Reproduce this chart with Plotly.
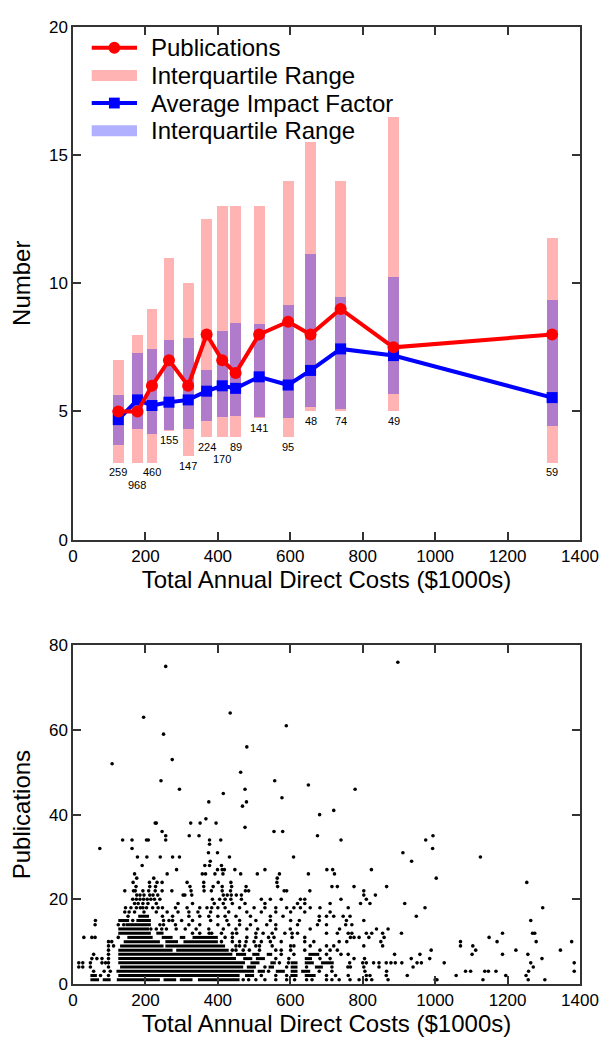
import plotly.graph_objects as go

# ---------------- top panel data ----------------
cost_mid = [125, 178, 218, 265, 318, 369, 412, 449, 514, 594, 656, 739, 885, 1323]
pub_median = [5, 5, 6, 7, 6, 8, 7, 6.5, 8, 8.5, 8, 9, 7.5, 8]
pub_q1 = [3, 3, 3, 4.25, 3.25, 4, 4, 4, 4.75, 4, 5, 5, 5, 3]
pub_q3 = [7, 8, 9, 11, 10, 12.5, 13, 13, 13, 14, 15.5, 14, 16.5, 11.75]
if_mean = [4.68, 5.45, 5.23, 5.36, 5.45, 5.79, 6.0, 5.9, 6.35, 6.03, 6.6, 7.44, 7.18, 5.54]
if_q1 = [3.68, 4.32, 4.13, 4.26, 4.32, 4.64, 4.77, 4.83, 4.77, 4.74, 5.17, 5.09, 5.68, 4.42]
if_q3 = [5.64, 7.28, 7.44, 7.8, 7.85, 6.6, 8.14, 8.46, 8.42, 9.14, 11.14, 9.45, 10.26, 9.33]
grant_counts = [259, 968, 460, 155, 147, 224, 170, 89, 141, 95, 48, 74, 49, 59]
label_staggered = [0, 1, 0, 0, 0, 0, 1, 0, 0, 0, 0, 0, 0, 0]

x_ticks = [0, 200, 400, 600, 800, 1000, 1200, 1400]
num_ticks = [0, 5, 10, 15, 20]
pub_ticks = [0, 20, 40, 60, 80]

legend_labels = ["Publications", "Interquartile Range", "Average Impact Factor", "Interquartile Range"]

# ---------------- bottom panel data ----------------
# solid runs of overlapping dots: publications -> [(cost_from, cost_to), ...]
scatter_runs = {
    1: [(48, 72), (82, 104), (121, 240), (250, 285), (295, 330), (345, 460)],
    2: [(48, 66), (125, 460), (475, 500), (600, 620), (640, 670)],
    3: [(120, 500), (510, 530), (560, 585), (601, 620), (630, 655)],
    4: [(130, 470), (480, 505), (540, 555), (601, 620), (668, 690)],
    5: [(125, 475), (490, 515), (545, 560), (601, 620), (640, 665), (685, 720)],
    6: [(125, 450), (470, 495), (505, 530), (640, 660)],
    7: [(125, 440), (450, 478), (495, 515), (535, 550), (650, 680)],
    8: [(125, 275), (285, 430)],
    9: [(130, 250), (255, 420)],
    10: [(140, 240), (255, 290), (305, 400)],
    11: [(150, 220), (245, 275), (295, 310), (330, 400)],
    12: [(125, 215), (230, 250)],
    13: [(125, 210)],
    14: [(145, 215)],
    15: [(125, 155), (175, 215)],
    16: [(180, 210)],
}
# isolated dots: publications -> [cost, ...]
scatter_dots = {
    1: [470, 485, 505, 530, 560, 590, 612, 645, 660, 700, 715, 735, 765, 790, 810, 825, 870, 1000, 1005, 1132, 1257, 1303],
    2: [76, 98, 520, 560, 590, 700, 725, 760, 810, 820, 865, 923, 1058, 1195, 1251],
    3: [57, 86, 103, 540, 680, 715, 806, 866, 1084, 1098, 1137, 1147, 1168, 1258, 1384],
    4: [16, 27, 48, 98, 530, 590, 645, 715, 759, 766, 803, 845, 939, 1271],
    5: [16, 27, 48, 80, 90, 98, 570, 595, 764, 800, 810, 830, 845, 865, 878, 890, 908, 950, 962, 1025, 1264, 1384],
    6: [52, 66, 80, 98, 560, 596, 682, 710, 776, 805, 934, 985, 1295],
    7: [57, 98, 575, 610, 700, 740, 760, 888, 958, 1102, 1186, 1256],
    8: [98, 440, 450, 470, 487, 515, 560, 575, 601, 640, 682, 710, 730, 989, 1112, 1223, 1346],
    9: [98, 112, 450, 460, 475, 505, 515, 550, 601, 610, 655, 700, 720, 803, 855, 1070, 1104],
    10: [98, 107, 410, 440, 460, 478, 500, 520, 545, 575, 640, 665, 735, 756, 850, 1070, 1171, 1279, 1377],
    11: [30, 52, 61, 125, 420, 440, 480, 505, 540, 555, 605, 640, 766, 776, 790, 817, 859, 1149],
    12: [330, 350, 376, 383, 410, 440, 452, 505, 525, 550, 585, 605, 620, 700, 730, 760, 770, 810, 825, 855, 907, 1186, 1269, 1275],
    13: [215, 230, 245, 258, 285, 310, 340, 375, 415, 450, 480, 510, 560, 600, 655, 736, 838, 870],
    14: [61, 125, 140, 240, 250, 283, 320, 350, 400, 430, 460, 490, 535, 560, 620, 675, 700, 753, 770],
    15: [62, 165, 250, 265, 275, 300, 330, 380, 425, 460, 505, 545, 601, 625, 680, 755, 803, 1264],
    16: [152, 247, 275, 320, 350, 375, 400, 420, 450, 490, 545, 580, 680, 700, 720, 746, 765, 948],
    17: [143, 155, 170, 196, 230, 260, 290, 320, 345, 380, 430, 480, 520, 560, 601, 640, 710],
    18: [145, 160, 175, 186, 193, 203, 220, 235, 247, 283, 315, 350, 370, 383, 400, 420, 460, 500, 530, 560, 590, 610, 628, 655, 682, 760, 972, 1297],
    19: [170, 180, 193, 207, 230, 290, 330, 390, 415, 440, 475, 530, 620, 640, 710, 794, 820, 916],
    20: [165, 175, 185, 195, 205, 215, 225, 240, 385, 405, 420, 436, 465, 520, 545, 575, 628, 640, 740, 810],
    21: [176, 185, 196, 212, 221, 234, 304, 309, 328, 415, 426, 437, 451, 465, 803, 835],
    22: [143, 167, 172, 193, 209, 227, 246, 273, 326, 362, 382, 412, 435, 476, 485, 583, 590, 654, 803],
    23: [174, 212, 228, 323, 361, 387, 412, 438, 478, 565, 715, 730, 776, 866],
    24: [166, 211, 232, 246, 315, 361, 401, 436, 563, 1253],
    25: [176, 223, 564, 1003],
    26: [170, 260, 357, 366, 392, 414, 463, 509, 570, 650, 722],
    27: [286, 399, 412, 418, 447, 530, 701, 717, 824],
    28: [191, 364, 377, 410],
    29: [379, 935],
    30: [178, 204, 241, 275, 294, 432, 609, 1125],
    31: [374, 399, 911],
    32: [74, 163, 993],
    33: [377],
    34: [137, 163, 203, 208, 256, 377, 408, 740, 974],
    35: [256, 321, 348, 675, 994],
    36: [246, 555, 579],
    37: [475],
    38: [227, 230, 325, 351, 395],
    39: [367],
    40: [681],
    41: [720],
    42: [468],
    43: [375, 479],
    44: [577],
    45: [415],
    46: [294, 475, 779],
    47: [650],
    48: [243, 557],
    50: [463],
    52: [108],
    53: [274],
    56: [480],
    59: [250],
    61: [589],
    63: [195],
    64: [434],
    75: [256],
    76: [897],
}

# ---------------- figure ----------------
FONT = "Arial, Liberation Sans, sans-serif"
PAGE_OFFSET = 8                      # default body margin of the html page
W, H = 609 - PAGE_OFFSET, 1045 - PAGE_OFFSET - 2
ML, MR, MT, MB = 73 - PAGE_OFFSET, 21, 18 - PAGE_OFFSET, 56
PW, PH = W - ML - MR, H - MT - MB
TOP_BOTTOM_PX, BOT_TOP_PX = 537, 644
RED = "#ff0000"
BLUE = "#0000ff"
PINK = "#ffb3b3"
BLUE_T = "rgba(0,0,255,0.31)"


def px_x(px):
    return (px - PAGE_OFFSET - ML) / PW


def px_y(py):
    return (H - MB - (py - PAGE_OFFSET)) / PH


fig = go.Figure()

# pink interquartile bars (publications)
fig.add_trace(go.Bar(
    x=cost_mid, y=[b - a for a, b in zip(pub_q1, pub_q3)], base=pub_q1, width=30,
    marker=dict(color=PINK, line=dict(width=0)), showlegend=False,
    xaxis="x", yaxis="y"))
# translucent blue interquartile bars (impact factor)
fig.add_trace(go.Bar(
    x=cost_mid, y=[b - a for a, b in zip(if_q1, if_q3)], base=if_q1, width=30,
    marker=dict(color=BLUE_T, line=dict(width=0)), showlegend=False,
    xaxis="x", yaxis="y"))
# average impact factor line
fig.add_trace(go.Scatter(
    x=cost_mid, y=if_mean, mode="lines+markers",
    line=dict(color=BLUE, width=4), marker=dict(symbol="square", size=11, color=BLUE),
    showlegend=False, xaxis="x", yaxis="y"))
# publications line
fig.add_trace(go.Scatter(
    x=cost_mid, y=pub_median, mode="lines+markers",
    line=dict(color=RED, width=4), marker=dict(symbol="circle", size=12, color=RED),
    showlegend=False, xaxis="x", yaxis="y"))

# scatter panel: dense runs drawn as lines, isolated dots as markers
run_x, run_y = [], []
for p, segs in scatter_runs.items():
    for a, b in segs:
        run_x += [a, b, None]
        run_y += [p, p, None]
fig.add_trace(go.Scatter(x=run_x, y=run_y, mode="lines",
                         line=dict(color="black", width=3),
                         showlegend=False, xaxis="x2", yaxis="y2"))
dot_x, dot_y = [], []
for p, xs in scatter_dots.items():
    for c in xs:
        dot_x.append(c)
        dot_y.append(p)
fig.add_trace(go.Scatter(x=dot_x, y=dot_y, mode="markers",
                         marker=dict(color="black", size=3.6, line=dict(width=0)),
                         showlegend=False, xaxis="x2", yaxis="y2"))

annotations = []
# grant count labels under the bars
for c, q1, n, st in zip(cost_mid, pub_q1, grant_counts, label_staggered):
    annotations.append(dict(x=c, y=q1 - 0.38 - 0.49 * st, xref="x", yref="y",
                            text=str(n), showarrow=False, xanchor="center", yanchor="middle",
                            font=dict(family=FONT, size=11, color="black")))

# manual legend
leg_rows = [39, 67, 95, 123]
shapes = []
sw0, sw1 = 92, 138
shapes.append(dict(type="line", xref="paper", yref="paper", x0=px_x(sw0), x1=px_x(sw1),
                   y0=px_y(leg_rows[0]), y1=px_y(leg_rows[0]), line=dict(color=RED, width=4)))
shapes.append(dict(type="circle", xref="paper", yref="paper", x0=px_x(109), x1=px_x(121),
                   y0=px_y(leg_rows[0] + 6), y1=px_y(leg_rows[0] - 6),
                   fillcolor=RED, line=dict(width=0)))
shapes.append(dict(type="line", xref="paper", yref="paper", x0=px_x(sw0), x1=px_x(sw1),
                   y0=px_y(leg_rows[1]), y1=px_y(leg_rows[1]), line=dict(color=PINK, width=11)))
shapes.append(dict(type="line", xref="paper", yref="paper", x0=px_x(sw0), x1=px_x(sw1),
                   y0=px_y(leg_rows[2]), y1=px_y(leg_rows[2]), line=dict(color=BLUE, width=4)))
shapes.append(dict(type="rect", xref="paper", yref="paper", x0=px_x(109.5), x1=px_x(120.5),
                   y0=px_y(leg_rows[2] + 5.5), y1=px_y(leg_rows[2] - 5.5),
                   fillcolor=BLUE, line=dict(width=0)))
shapes.append(dict(type="line", xref="paper", yref="paper", x0=px_x(sw0), x1=px_x(sw1),
                   y0=px_y(leg_rows[3]), y1=px_y(leg_rows[3]), line=dict(color=BLUE_T, width=11)))
for lbl, ry in zip(legend_labels, leg_rows):
    annotations.append(dict(x=px_x(150), y=px_y(ry), xref="paper", yref="paper", text=lbl,
                            showarrow=False, xanchor="left", yanchor="middle",
                            font=dict(family=FONT, size=24, color="black")))

axis_common = dict(
    showline=True, linecolor="#333333", linewidth=1.5, mirror="ticks",
    ticks="inside", ticklen=8, tickwidth=1.5, tickcolor="#333333",
    showgrid=False, zeroline=False,
    tickfont=dict(family=FONT, size=17, color="black"),
)

fig.update_layout(
    width=W, height=H,
    margin=dict(l=ML, r=MR, t=MT, b=MB),
    paper_bgcolor="white", plot_bgcolor="white",
    barmode="overlay", bargap=0,
    showlegend=False,
    font=dict(family=FONT, color="black"),
    xaxis=dict(domain=[0, 1], anchor="y", range=[0, 1400], tickvals=x_ticks,
               title=dict(text="Total Annual Direct Costs ($1000s)",
                          font=dict(family=FONT, size=24), standoff=6),
               **axis_common),
    yaxis=dict(domain=[px_y(TOP_BOTTOM_PX), 1], anchor="x", range=[0, 20], tickvals=num_ticks,
               title=dict(text="Number", font=dict(family=FONT, size=24), standoff=12),
               **axis_common),
    xaxis2=dict(domain=[0, 1], anchor="y2", range=[0, 1400], tickvals=x_ticks,
                title=dict(text="Total Annual Direct Costs ($1000s)",
                           font=dict(family=FONT, size=24), standoff=6),
                **axis_common),
    yaxis2=dict(domain=[0, px_y(BOT_TOP_PX)], anchor="x2", range=[0, 80], tickvals=pub_ticks,
                title=dict(text="Publications", font=dict(family=FONT, size=24), standoff=12),
                **axis_common),
    annotations=annotations,
    shapes=shapes,
)

fig.write_html("out.html")
